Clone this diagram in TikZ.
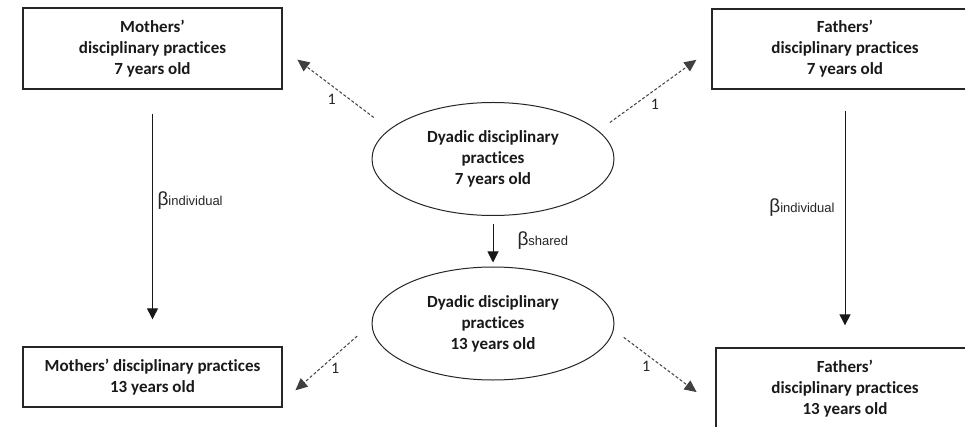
\documentclass[tikz,border=0pt]{standalone}
\usepackage{fontspec}
\setmainfont{Carlito}[Ligatures={NoCommon,NoRare,NoContextual},Contextuals=NoAlternate]
\newfontfamily\betafont{Liberation Sans}
\usepackage{tikz}
\usetikzlibrary{shapes,calc,arrows.meta}
\tikzset{
	boite/.style={draw=black!85,line width=1.3pt,rectangle,inner sep=0pt,align=center,
		font=\bfseries\fontsize{17}{21}\selectfont,text=black!90},
	dyade/.style={draw=black!85,line width=1pt,ellipse,inner sep=0pt,minimum width=242pt,
		minimum height=113pt,align=center,font=\bfseries\fontsize{17}{21}\selectfont,text=black!90},
	fleche/.style={line width=1pt,black!90,-{Triangle[width=11pt,length=11pt]}},
	charge/.style={line width=1pt,black!75,dash pattern=on 3pt off 2pt,-{Triangle[width=11pt,length=12pt]}},
	un/.style={font=\fontsize{16}{16}\selectfont,text=black!85},
	coef/.style={inner sep=0pt,font=\betafont\fontsize{19}{19}\selectfont,text=black!85}
}
\newcommand{\coefb}[1]{β{\fontsize{13}{13}\selectfont #1}}

\begin{document}
\begin{tikzpicture}[x=1pt,y=-1pt]
	\def\largeur{965}
	\def\hauteur{427}
\clip (0,0) rectangle (\largeur,\hauteur); % the two right boxes go past the edge
\fill[white] (0,0) rectangle (\largeur,\hauteur);

%Meres
\node[boite,minimum width=259pt,minimum height=81pt] (m7) at (152.5,48.5) {Mothers’\\disciplinary practices\\7 years old};
\node[boite,minimum width=259pt,minimum height=60pt] (m13) at (152.5,377) {Mothers’ disciplinary practices\\13 years old};

%Peres
\node[boite,minimum width=266pt,minimum height=80pt] (f7) at (845,49) {Fathers’\\disciplinary practices\\7 years old};
\node[boite,minimum width=258pt,minimum height=81pt] (f13) at (845,388.5) {Fathers’\\disciplinary practices\\13 years old};

%Dyade
\node[dyade] (d7) at (493,159) {Dyadic disciplinary\\practices\\7 years old};
\node[dyade] (d13) at (493,323.5) {Dyadic disciplinary\\practices\\13 years old};

%Stabilite
\draw[fleche,shorten <=24pt,shorten >=27pt] (m7) -- (m13) node[coef,pos=0.434,right=4.5pt] {\coefb{individual}};
\draw[fleche,shorten <=21pt,shorten >=22pt] (f7) -- (f13) node[coef,pos=0.456,left=10pt] {\coefb{individual}};
\draw[fleche,shorten <=8pt,shorten >=4pt] (d7) -- (d13) node[coef,pos=0.48,right=24pt] {\coefb{shared}};

%Saturations
\draw[charge,shorten <=19.5pt,shorten >=18.5pt] (d7.164) -- (m7.east) node[un,pos=0.54,yshift=-13.5pt] {1};
\draw[charge,shorten <=14pt,shorten >=18.5pt] (d7.15) -- (f7.west) node[un,pos=0.5,yshift=-14.5pt] {1};
\draw[charge,shorten <=19pt,shorten >=17pt] (d13.west) -- ($(m13.south east)!0.1!(m13.north east)$) node[un,pos=0.41,yshift=-12.5pt] {1};
\draw[charge,shorten <=12.5pt,shorten >=23.5pt] (d13.-3) -- ($(f13.west)!0.43!(f13.south west)$) node[un,pos=0.32,yshift=-12.5pt] {1};

\end{tikzpicture}
\end{document}
